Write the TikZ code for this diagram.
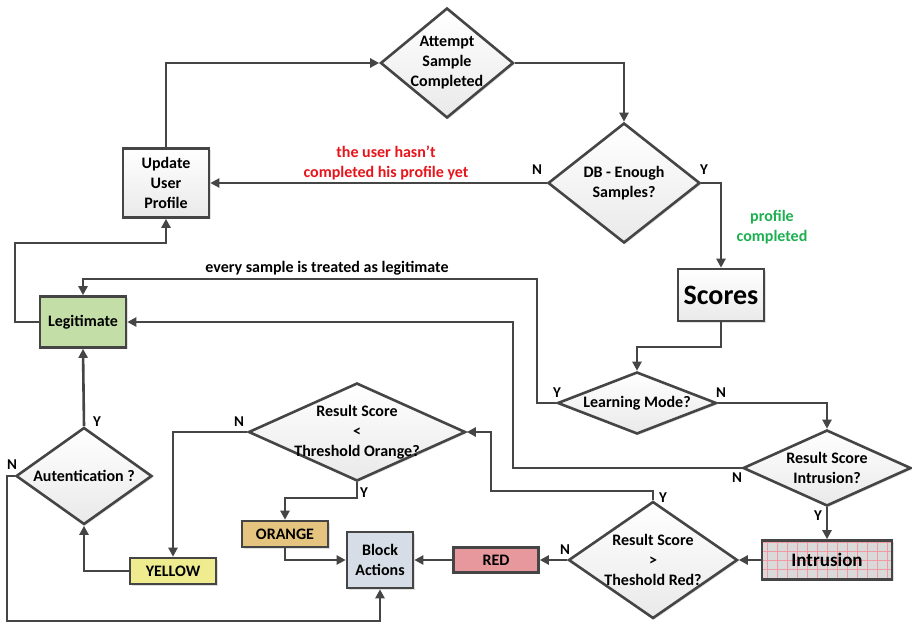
\documentclass[tikz,border=0pt]{standalone}
\usepackage{fontspec}
\setmainfont{Carlito}
\usetikzlibrary{shapes.geometric,arrows.meta,shadows}
\definecolor{ln}{HTML}{454545}
\definecolor{legc}{HTML}{C3DEA6}
\definecolor{orgc}{HTML}{E5C47F}
\definecolor{yelc}{HTML}{EEEC8F}
\definecolor{redc}{HTML}{E6989C}
\definecolor{blkc}{HTML}{D6DDE6}
\definecolor{intc}{HTML}{DADADA}
\definecolor{gridc}{HTML}{F09AA3}
\definecolor{redtxt}{HTML}{E8141C}
\definecolor{grntxt}{HTML}{1DB050}
\begin{document}
\begin{tikzpicture}[x=1pt,y=-1pt,
  every node/.style={font=\fontsize{16}{20}\selectfont\bfseries},
  shd/.style={drop shadow={shadow xshift=1.5pt,shadow yshift=-1.5pt,opacity=0.25}},
  dia/.style={diamond,draw=ln,line width=2.6pt,inner sep=0pt,top color=white,bottom color=gray!17,shd},
  gbox/.style={rectangle,draw=ln,line width=2.6pt,inner sep=0pt,top color=white,bottom color=gray!17,shd,align=center},
  cbox/.style={rectangle,draw=ln,line width=2.6pt,inner sep=0pt,shd,align=center},
  txt/.style={align=center,inner sep=0pt},
  conn/.style={draw=ln,line width=2.6pt,-{Triangle[length=9pt,width=9pt]}},
  yn/.style={inner sep=0pt,font=\fontsize{15}{18}\selectfont\bfseries}
]
\useasboundingbox (0,0) rectangle (912,624);

% nodes
\node[dia,minimum width=133pt,minimum height=110pt] (att) at (447,63) {};
\node[txt] (attT) at (447,63) {Attempt\\Sample\\Completed};
\node[dia,minimum width=152pt,minimum height=120pt] (db) at (624,183) {};
\node[txt] (dbT) at (624,183) {DB - Enough\\Samples?};
\node[gbox,minimum width=86pt,minimum height=69pt] (upd) at (166,183) {Update\\User\\Profile};
\node[gbox,minimum width=86pt,minimum height=52pt,font=\fontsize{28}{32}\selectfont\bfseries] (sc) at (721,295) {Scores};
\node[dia,minimum width=159pt,minimum height=62pt] (lm) at (637,403) {};
\node[txt] (lmT) at (637,403) {Learning Mode?};
\node[dia,minimum width=168pt,minimum height=76pt] (rsi) at (827,468) {};
\node[txt] (rsiT) at (827,468) {Result Score\\Intrusion?};
\node[cbox,fill=legc,minimum width=86pt,minimum height=51pt] (leg) at (83,322) {Legitimate};
\node[cbox,fill=intc,minimum width=130pt,minimum height=39pt,
  path picture={\draw[gridc,line width=1pt,xstep=10pt,ystep=9pt] (path picture bounding box.south west) grid (path picture bounding box.north east);}] (intr) at (827,560) {};
\node[txt,font=\fontsize{19}{22}\selectfont\bfseries] (intrT) at (827,560) {Intrusion};
\node[dia,minimum width=169pt,minimum height=117pt] (rsr) at (653,560) {};
\node[txt] (rsrT) at (653,560) {Result Score\\>\\Theshold Red?};
\node[cbox,fill=redc,minimum width=85pt,minimum height=25pt] (red) at (496,560) {RED};
\node[cbox,fill=blkc,minimum width=66pt,minimum height=56pt] (blk) at (380,560) {Block\\Actions};
\node[dia,minimum width=217pt,minimum height=98pt] (rso) at (357,432) {};
\node[txt] (rsoT) at (357,432) {Result Score\\<\\Threshold Orange?};
\node[cbox,fill=yelc,minimum width=86pt,minimum height=26pt] (yel) at (173,571) {YELLOW};
\node[cbox,fill=orgc,minimum width=86pt,minimum height=26pt] (org) at (285,534) {ORANGE};
\node[dia,minimum width=136pt,minimum height=97pt] (aut) at (84,476) {};
\node[txt] (autT) at (84,476) {Autentication ?};

% helper coordinates
\coordinate (k1) at (721,347);
\coordinate (c2) at (537,279);
\coordinate (c3) at (513,322);
\coordinate (c4) at (15,243);
\coordinate (c5) at (653,491);
\coordinate (c6) at (491,432);
\coordinate (c7) at (357,498);
\coordinate (c8) at (7,621);

% connectors
\draw[conn] (upd.north) |- (att.west);
\draw[conn] (att.east) -| (db.north);
\draw[conn] (db.west) -- (upd.east);
\draw[conn] (db.east) -| (sc.north);
\draw[conn] (sc.south) -- (k1) -| (lm.north);
\draw[conn] (lm.west) -| (c2) -| (leg.north);
\draw[conn] (lm.east) -| (rsi.north);
\draw[conn] (rsi.west) -| (c3) -- (leg.east);
\draw[conn] (leg.west) -| (c4) -| (upd.south);
\draw[conn] (rsi.south) -- (intr.north);
\draw[conn] (intr.west) -- (rsr.east);
\draw[conn] (rsr.north) -- (c5) -| (c6) -- (rso.east);
\draw[conn] (rsr.west) -- (red.east);
\draw[conn] (red.west) -- (blk.east);
\draw[conn] (rso.west) -| (yel.north);
\draw[conn] (rso.south) -- (c7) -| (org.north);
\draw[conn] (org.south) |- (blk.west);
\draw[conn] (yel.west) -| (aut.south);
\draw[conn] (aut.north) -- (leg.south);
\draw[conn] (aut.west) -| (c8) -| (blk.south);

% labels
\node[txt,text=redtxt] (lbl1) at (386,163) {the user hasn’t\\completed his profile yet};
\node[txt,text=grntxt] (lbl2) at (772,227) {profile\\completed};
\node[txt] (lbl3) at (327,268) {every sample is treated as legitimate};
\node[yn] (n1) at (537,170) {N};
\node[yn] (y1) at (704,170) {Y};
\node[yn] (y2) at (557,393) {Y};
\node[yn] (n2) at (721,393) {N};
\node[yn] (n3) at (737,478) {N};
\node[yn] (y3) at (818,516) {Y};
\node[yn] (y4) at (663,498) {Y};
\node[yn] (n4) at (565,550) {N};
\node[yn] (n5) at (239,422) {N};
\node[yn] (y5) at (364,493) {Y};
\node[yn] (y6) at (97,422) {Y};
\node[yn] (n6) at (12,465) {N};
\end{tikzpicture}
\end{document}
